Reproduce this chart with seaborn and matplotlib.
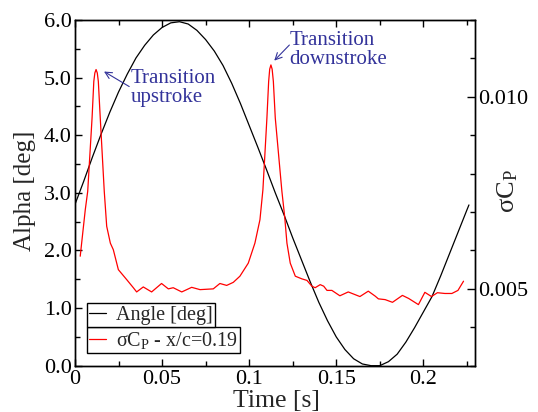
import matplotlib
matplotlib.use("Agg")
import matplotlib.pyplot as plt
from matplotlib.lines import Line2D
from matplotlib.legend import Legend
from matplotlib.ticker import MultipleLocator, FixedFormatter, FixedLocator
import seaborn as sns
import pandas as pd

# Pitch angle history over one cycle
time_angle = [0.000, 0.005, 0.010, 0.015, 0.020, 0.025, 0.030, 0.035, 0.040, 0.045,
              0.050, 0.055, 0.060, 0.065, 0.070, 0.075, 0.080, 0.085, 0.090, 0.095,
              0.100, 0.105, 0.110, 0.115, 0.120, 0.125, 0.130, 0.135, 0.140, 0.145,
              0.150, 0.155, 0.160, 0.165, 0.170, 0.175, 0.180, 0.185, 0.190, 0.195,
              0.200, 0.205, 0.210, 0.215, 0.220, 0.225, 0.2262]
alpha_deg = [2.80, 3.20, 3.62, 4.02, 4.40, 4.75, 5.06, 5.34, 5.56, 5.74,
             5.87, 5.95, 5.97, 5.93, 5.82, 5.66, 5.46, 5.21, 4.90, 4.55,
             4.17, 3.79, 3.40, 3.00, 2.62, 2.22, 1.84, 1.46, 1.10, 0.78,
             0.50, 0.28, 0.12, 0.03, 0.00, 0.00, 0.07, 0.20, 0.41, 0.66,
             0.93, 1.20, 1.56, 1.94, 2.32, 2.70, 2.79]

# Standard deviation of the pressure coefficient at x/c = 0.19
time_cp = [0.0030, 0.0059, 0.0073, 0.0098, 0.0108, 0.0114, 0.0121, 0.0128, 0.0134, 0.0145,
           0.0168, 0.0182, 0.0203, 0.0220, 0.0249, 0.0297, 0.0335, 0.0354, 0.0392, 0.0440,
           0.0497, 0.0536, 0.0564, 0.0613, 0.0670, 0.0718, 0.0794, 0.0832, 0.0871, 0.0909,
           0.0947, 0.0995, 0.1033, 0.1062, 0.1079, 0.1102, 0.1112, 0.1118, 0.1125, 0.1132,
           0.1139, 0.1150, 0.1188, 0.1204, 0.1217, 0.1236, 0.1265, 0.1303, 0.1332, 0.1360,
           0.1379, 0.1408, 0.1428, 0.1447, 0.1475, 0.1521, 0.1569, 0.1636, 0.1684, 0.1724,
           0.1742, 0.1781, 0.1823, 0.1880, 0.1916, 0.1972, 0.2009, 0.2047, 0.2081, 0.2124,
           0.2164, 0.2199, 0.2231]
sigma_cp = [0.00585, 0.00706, 0.00754, 0.00945, 0.01040, 0.01062, 0.01071, 0.01062, 0.01040, 0.00945,
            0.00754, 0.00663, 0.00619, 0.00602, 0.00550, 0.00524, 0.00503, 0.00492, 0.00505, 0.00492,
            0.00514, 0.00500, 0.00503, 0.00492, 0.00504, 0.00498, 0.00500, 0.00514, 0.00509, 0.00517,
            0.00533, 0.00567, 0.00619, 0.00680, 0.00758, 0.00945, 0.01040, 0.01072, 0.01083, 0.01072,
            0.01040, 0.00945, 0.00754, 0.00688, 0.00619, 0.00567, 0.00533, 0.00526, 0.00522, 0.00507,
            0.00503, 0.00511, 0.00507, 0.00496, 0.00496, 0.00482, 0.00492, 0.00480, 0.00494, 0.00481,
            0.00474, 0.00472, 0.00465, 0.00483, 0.00475, 0.00459, 0.00491, 0.00480, 0.00490, 0.00488,
            0.00488, 0.00496, 0.00520]

x_ticks = [0, 0.05, 0.1, 0.15, 0.2]
x_tick_labels = ["0", "0.05", "0.1", "0.15", "0.2"]
y_ticks = [0, 1, 2, 3, 4, 5, 6]
y_tick_labels = ["0.0", "1.0", "2.0", "3.0", "4.0", "5.0", "6.0"]
y2_ticks = [0.005, 0.010]
y2_tick_labels = ["0.005", "0.010"]

angle_df = pd.DataFrame({"t": time_angle, "alpha": alpha_deg})
cp_df = pd.DataFrame({"t": time_cp, "scp": sigma_cp})

sns.set_theme(style="ticks")
plt.rcParams.update({
    "font.family": ["Liberation Serif", "DejaVu Serif"],
    "mathtext.fontset": "custom",
    "mathtext.rm": "Liberation Serif",
    "mathtext.it": "Liberation Serif:italic",
    "mathtext.bf": "Liberation Serif:bold",
    "axes.edgecolor": "black",
    "axes.linewidth": 1.0,
    "xtick.color": "black",
    "ytick.color": "black",
})

fig = plt.figure(figsize=(5.38, 4.12), dpi=100)
ax = fig.add_axes([0.1394, 0.1124, 0.7429, 0.8391])
ax2 = ax.twinx()

sns.lineplot(data=angle_df, x="t", y="alpha", ax=ax, color="black",
             linewidth=0.9, estimator=None, sort=False)
sns.lineplot(data=cp_df, x="t", y="scp", ax=ax2, color="#ff0000",
             linewidth=0.9, estimator=None, sort=False)

ax.set_xlim(0, 0.2295)
ax.set_ylim(0, 6)
ax2.set_ylim(0.003, 0.012)

ax.xaxis.set_major_locator(FixedLocator(x_ticks))
ax.xaxis.set_major_formatter(FixedFormatter(x_tick_labels))
ax.xaxis.set_minor_locator(MultipleLocator(0.025))
ax.yaxis.set_major_locator(FixedLocator(y_ticks))
ax.yaxis.set_major_formatter(FixedFormatter(y_tick_labels))
ax.yaxis.set_minor_locator(MultipleLocator(0.5))
ax2.yaxis.set_major_locator(FixedLocator(y2_ticks))
ax2.yaxis.set_major_formatter(FixedFormatter(y2_tick_labels))
ax2.yaxis.set_minor_locator(MultipleLocator(0.001))

tick_size = 16
ax.tick_params(axis="both", which="both", direction="in", top=True, right=False,
               labelsize=tick_size, width=1.0)
ax.tick_params(axis="both", which="major", length=5)
ax.tick_params(axis="both", which="minor", length=3.5)
ax.tick_params(axis="x", pad=3)
ax.tick_params(axis="y", pad=2.5)
ax2.tick_params(axis="y", which="both", direction="in", labelsize=tick_size, width=1.0, pad=2.5)
ax2.tick_params(axis="y", which="major", length=6)
ax2.tick_params(axis="y", which="minor", length=3.5)

for a in (ax, ax2):
    for s in a.spines.values():
        s.set_color("black")
        s.set_linewidth(1.0)

ax.set_xlabel("Time [s]", fontsize=18.5, va="center", ha="center")
ax.xaxis.set_label_coords(0.504, -0.102)
ax.set_ylabel("Alpha [deg]", fontsize=18, va="center", ha="center")
ax.yaxis.set_label_coords(-0.125, 0.505)
ax2.set_ylabel(r"σC$_\mathrm{P}$", fontsize=19, va="center", ha="center")
ax2.yaxis.set_label_coords(1.082, 0.505)

# Legend entries, each in its own box, stacked
legend_kw = dict(fontsize=14.5, frameon=True, fancybox=False,
                 edgecolor="black", framealpha=1, borderpad=0.12, handlelength=0.8,
                 handletextpad=0.5, borderaxespad=0)
leg2 = Legend(ax2, [Line2D([], [], color="#ff0000", lw=0.9)],
              [r"σC$_\mathrm{P}$ - x/c=0.19"], loc="lower left",
              bbox_to_anchor=(0.030, 0.036), **legend_kw)
ax2.add_artist(leg2)
leg2.get_frame().set_linewidth(1.0)

fig.canvas.draw()
top2 = ax2.transAxes.inverted().transform(
    leg2.get_window_extent(fig.canvas.get_renderer()))[1, 1]
leg1 = Legend(ax2, [Line2D([], [], color="black", lw=0.9)], ["Angle [deg]"],
              loc="lower left", bbox_to_anchor=(0.030, top2), **legend_kw)
ax2.add_artist(leg1)
leg1.get_frame().set_linewidth(1.0)

# Transition labels
note_color = "#33339a"
ax.text(0.0321, 4.82, "Transition\nupstroke", color=note_color, fontsize=15,
        ha="left", va="center", linespacing=1.0)
ax.annotate("", xy=(0.0153, 5.13), xytext=(0.0325, 4.82),
            arrowprops=dict(arrowstyle="->", color=note_color, lw=0.8))
ax.text(0.1232, 5.48, "Transition\ndownstroke", color=note_color, fontsize=15,
        ha="left", va="center", linespacing=1.0)
ax.annotate("", xy=(0.1133, 5.26), xytext=(0.1242, 5.60),
            arrowprops=dict(arrowstyle="->", color=note_color, lw=0.8))

fig.savefig("out.png", dpi=100)
